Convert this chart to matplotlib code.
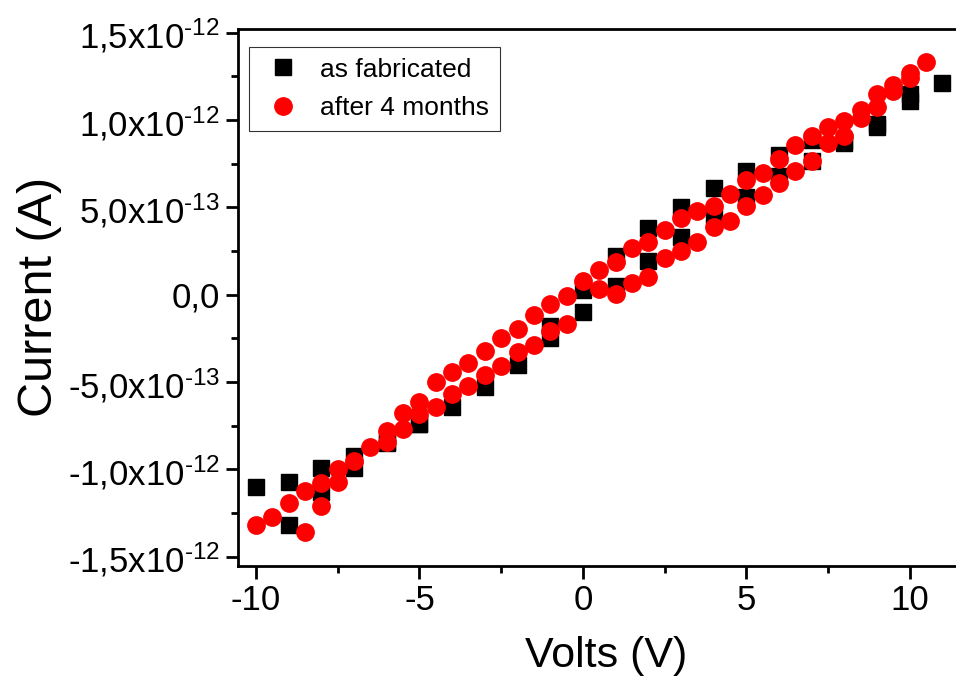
import numpy as np
import matplotlib
matplotlib.use('Agg')
import matplotlib.pyplot as plt
from matplotlib.ticker import MultipleLocator

# ----------------------------------
# Data (current in units of 1e-12 A)
# ----------------------------------

# as fabricated, two sweep branches
fab_v_a = [-10, -9, -8, -7, -6, -5, -4, -3, -2, -1, 0, 1, 2, 3, 4, 5, 6, 7, 8, 9, 10, 11]
fab_i_a = [-1.10, -1.07, -0.99, -0.925, -0.845, -0.74, -0.64, -0.53, -0.40, -0.18, 0.03,
           0.22, 0.38, 0.505, 0.61, 0.71, 0.80, 0.885, 0.88, 0.98, 1.11, 1.21]
fab_v_b = [-9, -8, -7, -6, -5, -1, 0, 1, 2, 3, 4, 5, 6, 7, 8, 9, 10]
fab_i_b = [-1.32, -1.13, -0.99, -0.85, -0.74, -0.25, -0.10, 0.05, 0.195, 0.33, 0.45,
           0.56, 0.68, 0.765, 0.87, 0.96, 1.15]

# after 4 months, two sweep branches
aged_v_a = [-10, -9.5, -9, -8.5, -8, -7.5, -7, -6.5, -6, -5.5, -5, -4.5, -4, -3.5, -3,
            -2.5, -2, -1.5, -1, -0.5, 0, 0.5, 1, 1.5, 2, 2.5, 3, 3.5, 4, 4.5, 5, 5.5,
            6, 6.5, 7, 7.5, 8, 8.5, 9, 9.5, 10, 10.5]
aged_i_a = [-1.316, -1.27, -1.195, -1.125, -1.08, -1.00, -0.95, -0.87, -0.78, -0.675,
            -0.615, -0.50, -0.44, -0.39, -0.32, -0.25, -0.195, -0.115, -0.052, -0.005,
            0.08, 0.14, 0.19, 0.27, 0.305, 0.37, 0.44, 0.48, 0.51, 0.575, 0.655, 0.70,
            0.78, 0.855, 0.91, 0.96, 0.995, 1.06, 1.15, 1.20, 1.27, 1.335]
aged_v_b = [-8.5, -8, -7.5, -6, -5.5, -5, -4.5, -4, -3.5, -3, -2.5, -2, -1.5, -1, -0.5,
            0.5, 1, 1.5, 2, 2.5, 3, 3.5, 4, 4.5, 5, 5.5, 6, 6.5, 7, 7.5, 8, 8.5, 9,
            9.5, 10]
aged_i_b = [-1.36, -1.21, -1.075, -0.845, -0.77, -0.685, -0.64, -0.57, -0.52, -0.46,
            -0.41, -0.33, -0.29, -0.21, -0.17, 0.035, 0.006, 0.07, 0.10, 0.21, 0.25,
            0.305, 0.39, 0.425, 0.51, 0.57, 0.64, 0.71, 0.765, 0.87, 0.91, 1.01, 1.075,
            1.165, 1.24]

y_ticks = [-1.5e-12, -1.0e-12, -5.0e-13, 0.0, 5.0e-13, 1.0e-12, 1.5e-12]
y_tick_labels = [r'-1,5x10$^{\text{-12}}$', r'-1,0x10$^{\text{-12}}$',
                 r'-5,0x10$^{\text{-13}}$', '0,0',
                 r'5,0x10$^{\text{-13}}$', r'1,0x10$^{\text{-12}}$',
                 r'1,5x10$^{\text{-12}}$']
x_ticks = [-10, -5, 0, 5, 10]
x_tick_labels = ['-10', '-5', '0', '5', '10']

# ----------------------------------
# Plot
# ----------------------------------

plt.rcParams['font.family'] = 'Liberation Sans'
plt.rcParams['mathtext.fontset'] = 'custom'
plt.rcParams['mathtext.rm'] = 'Liberation Sans'
plt.rcParams['mathtext.it'] = 'Liberation Sans'

fig = plt.figure(figsize=(9.56, 6.86), dpi=100)
# axes runs past the right edge of the figure, as in the original
ax = fig.add_axes([0.249, 0.175, 0.771, 0.783])

scale = 1e-12
ax.plot(fab_v_a, np.array(fab_i_a) * scale, ls='none', marker='s', ms=12,
        color='black', label='as fabricated')
ax.plot(fab_v_b, np.array(fab_i_b) * scale, ls='none', marker='s', ms=12,
        color='black')
ax.plot(aged_v_a, np.array(aged_i_a) * scale, ls='none', marker='o', ms=12.5,
        color='#ff0000', label='after 4 months')
ax.plot(aged_v_b, np.array(aged_i_b) * scale, ls='none', marker='o', ms=12.5,
        color='#ff0000')

ax.set_xlim(-10.55, 12.0)
ax.set_ylim(-1.553e-12, 1.523e-12)

ax.set_xticks(x_ticks)
ax.set_xticklabels(x_tick_labels)
ax.set_yticks(y_ticks)
ax.set_yticklabels(y_tick_labels)
ax.xaxis.set_minor_locator(MultipleLocator(2.5))
ax.yaxis.set_minor_locator(MultipleLocator(2.5e-13))

ax.tick_params(which='major', direction='out', length=9, width=2, labelsize=25, pad=4)
ax.tick_params(which='minor', direction='out', length=5, width=2)
ax.tick_params(top=False, right=False)
for s in ax.spines.values():
    s.set_linewidth(2)

ax.set_xlabel('Volts (V)', fontsize=31, labelpad=14)
ax.set_ylabel('Current (A)', fontsize=35, labelpad=4)

leg = ax.legend(loc='upper left', bbox_to_anchor=(0.015, 0.966), borderaxespad=0,
                fontsize=19, frameon=True, fancybox=False, handletextpad=0.5,
                borderpad=0.4, labelspacing=0.55, handlelength=1.8)
leg.get_frame().set_edgecolor('black')
leg.get_frame().set_linewidth(0.8)

fig.savefig('out.png', dpi=100)
